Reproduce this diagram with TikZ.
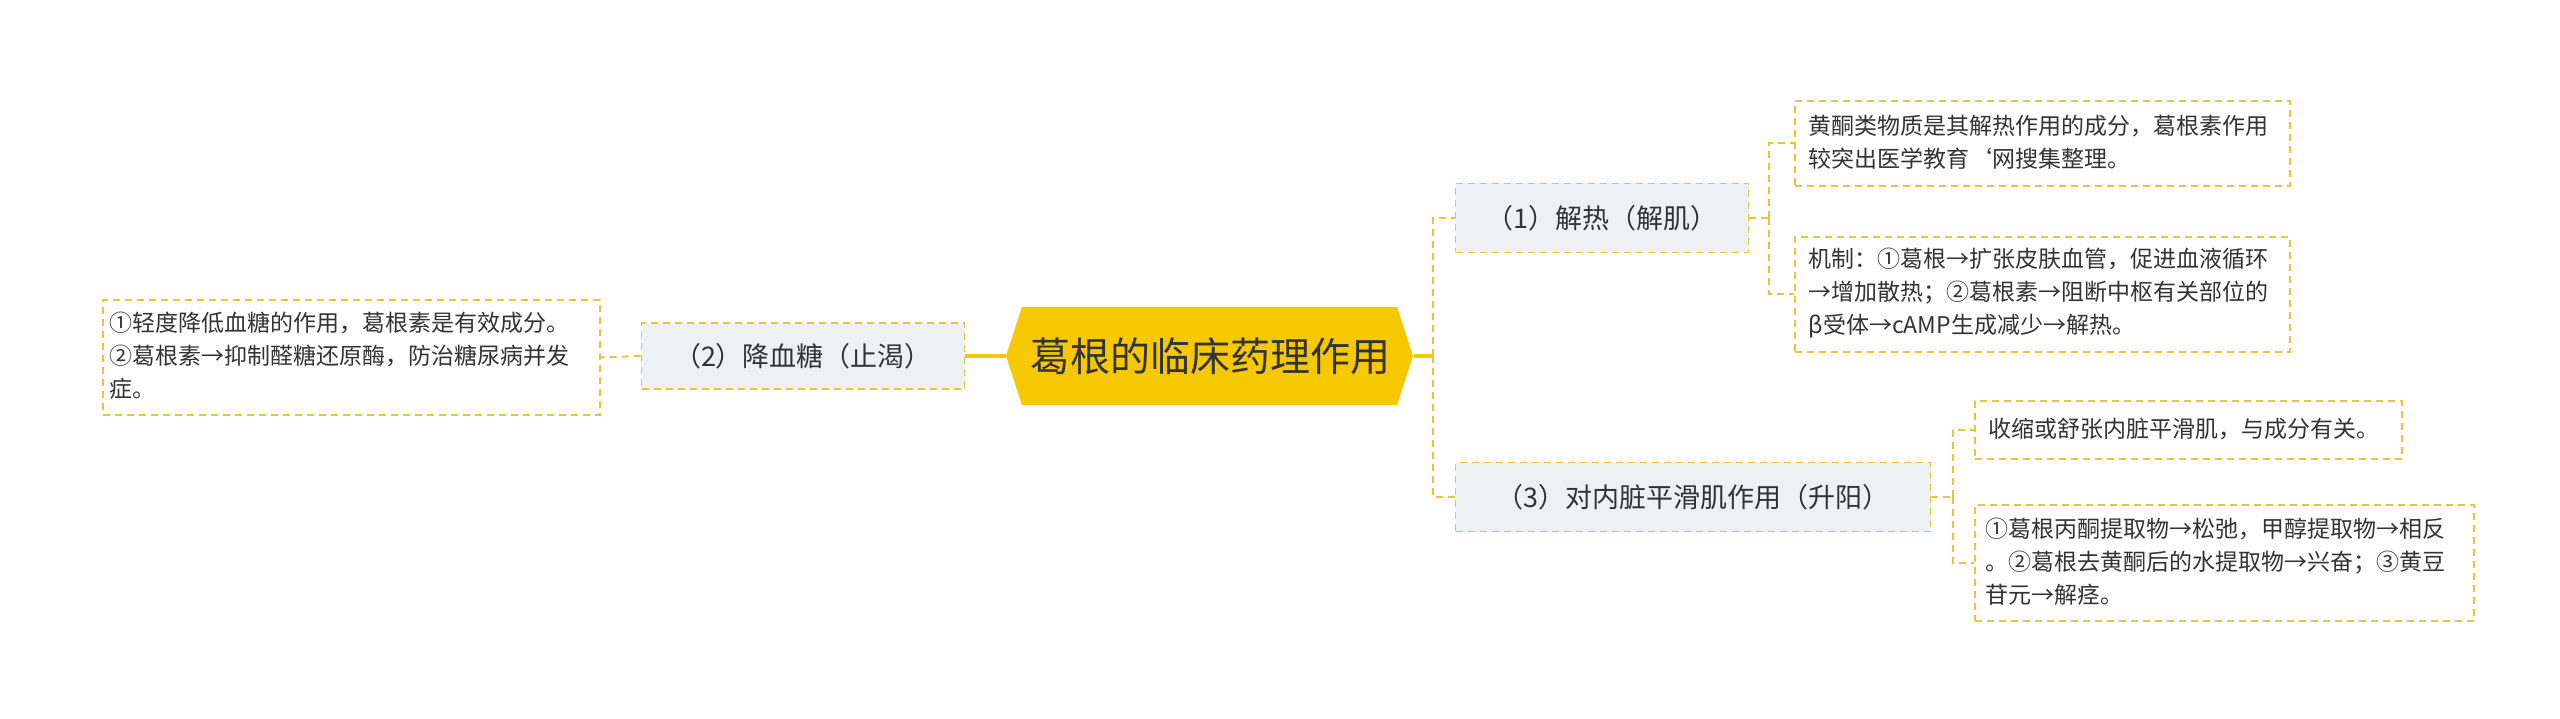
\documentclass[tikz,border=0pt]{standalone}
\usepackage{fontspec}
\setmainfont{Noto Sans CJK SC}
\definecolor{gold}{HTML}{F5C800}
\definecolor{dash}{HTML}{E9C53A}
\definecolor{pale}{HTML}{EEF1F4}
\definecolor{ink}{HTML}{333333}
\tikzset{
  x=1pt,y=-1pt,
  leaf/.style={draw=dash,line width=1.6pt,dash pattern=on 7pt off 5pt,fill=white,anchor=north west,inner sep=0pt,text=ink,font=\fontsize{23}{33}\selectfont},
  leaftext/.style={anchor=west,text=ink,font=\fontsize{23}{33}\selectfont,align=left},
  branch/.style={draw=dash,line width=1.6pt,dash pattern=on 7pt off 5pt,fill=pale,inner sep=0pt,text=ink,font=\fontsize{27}{33}\selectfont},
  link/.style={draw=dash,line width=2pt,dash pattern=on 7pt off 5pt},
}
\begin{document}
\begin{tikzpicture}
\useasboundingbox (0,0) rectangle (2560,719);
% center
\fill[gold] (1006,356) -- (1022,307) -- (1397,307) -- (1413,356) -- (1397,405) -- (1022,405) -- cycle;
\node[minimum width=407pt,minimum height=98pt,inner sep=0pt,font=\fontsize{40}{44}\selectfont,text=ink] (c) at (1210,356) {葛根的临床药理作用};
% branches
\node[branch,minimum width=293pt,minimum height=69pt] (b1) at (1602,218) {（1）解热（解肌）};
\node[branch,minimum width=323pt,minimum height=66pt] (b2) at (803,356) {（2）降血糖（止渴）};
\node[branch,minimum width=475pt,minimum height=69pt] (b3) at (1693,497) {（3）对内脏平滑肌作用（升阳）};
% leaves
\node[leaf,minimum width=495pt,minimum height=85pt] (l1a) at (1794,100) {};
\node[leaftext] at (1805,142) {黄酮类物质是其解热作用的成分，葛根素作用\\较突出医学教育`网搜集整理。};
\node[leaf,minimum width=495pt,minimum height=115pt] (l1b) at (1794,236) {};
\node[leaftext] at (1805,293) {机制：①葛根→扩张皮肤血管，促进血液循环\\→增加散热；②葛根素→阻断中枢有关部位的\\β受体→cAMP生成减少→解热。};
\node[leaf,minimum width=497pt,minimum height=115pt] (l2) at (102,299) {};
\node[leaftext] at (106,356) {①轻度降低血糖的作用，葛根素是有效成分。\\②葛根素→抑制醛糖还原酶，防治糖尿病并发\\症。};
\node[leaf,minimum width=427pt,minimum height=58pt] (l3a) at (1974,400) {};
\node[leaftext] at (1985,429) {收缩或舒张内脏平滑肌，与成分有关。};
\node[leaf,minimum width=499pt,minimum height=116pt] (l3b) at (1974,504) {};
\node[leaftext] at (1982,562) {①葛根丙酮提取物→松弛，甲醇提取物→相反\\。②葛根去黄酮后的水提取物→兴奋；③黄豆\\苷元→解痉。};
% connectors
\coordinate (t) at (1433,356);
\draw[gold,line width=3pt] (c.east) -- (t);
\draw[link] (t) |- (b1.west);
\draw[link] (t) |- (b3.west);
\draw[gold,line width=3pt] (c.west) -- (b2.east);
\draw[link] (b2.west) -- (l2.east);
\coordinate (s1) at (1769,218);
\draw[link] (b1.east) -- (s1);
\draw[link] (s1) |- (l1a.west);
\draw[link] (s1) |- (l1b.west);
\coordinate (s3) at (1953,497);
\draw[link] (b3.east) -- (s3);
\draw[link] (s3) |- (l3a.west);
\draw[link] (s3) |- (l3b.west);
\end{tikzpicture}
\end{document}
